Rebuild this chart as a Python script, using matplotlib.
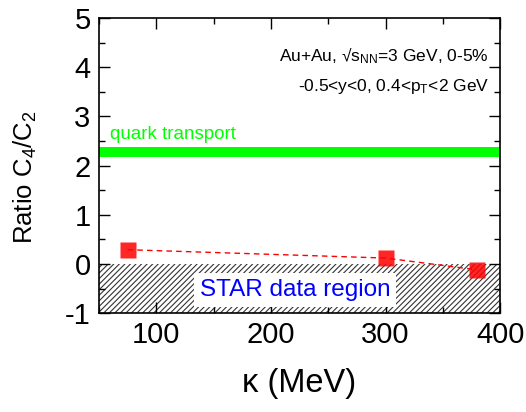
import matplotlib
matplotlib.use("Agg")
import matplotlib.pyplot as plt
from matplotlib.ticker import MultipleLocator

plt.rcParams['font.family'] = ['Liberation Sans', 'DejaVu Sans']
plt.rcParams['mathtext.fontset'] = 'custom'
plt.rcParams['mathtext.rm'] = 'Liberation Sans'
plt.rcParams['mathtext.it'] = 'Liberation Sans'
plt.rcParams['axes.unicode_minus'] = False
plt.rcParams['hatch.linewidth'] = 0.8

kappa = [75, 300, 380]
ratio = [0.29, 0.12, -0.12]
quark_band = (2.17, 2.37)
star_region = (-1.0, 0.0)
x_ticks = [100, 200, 300, 400]
y_ticks = [-1, 0, 1, 2, 3, 4, 5]

fig = plt.figure(figsize=(5.26, 4.12), dpi=100)
ax = fig.add_axes([0.188, 0.240, 0.763, 0.716])

ax.set_xlim(50, 400)
ax.set_ylim(-1, 5)

ax.axhspan(star_region[0], star_region[1], facecolor='white', edgecolor='#333333',
           hatch='//////', linewidth=0, zorder=1)
ax.axhspan(quark_band[0], quark_band[1], facecolor='#00ff00', edgecolor='none', zorder=2)

ax.plot(kappa, ratio, linestyle=(0, (4, 3)), color='red', linewidth=1.0, zorder=3)
ax.plot(kappa, ratio, linestyle='none', marker='s', markersize=11,
        markerfacecolor='red', markeredgecolor='none', alpha=0.85, zorder=4)

ax.text(60, 2.55, 'quark transport', color='#00ff00', fontsize=13.5, zorder=5)
ax.text(221, -0.53, 'STAR data region', color='blue', fontsize=17.5, ha='center', va='center',
        bbox=dict(facecolor='white', edgecolor='none', boxstyle='square,pad=0.25'), zorder=5)

ax.text(390, 4.23, 'Au+Au, √s$_{\\mathrm{NN}}$=3 GeV, 0-5%', ha='right', va='center',
        fontsize=12.5, zorder=5)
ax.text(390, 3.61, '-0.5<y<0, 0.4<p$_{\\mathrm{T}}$<2 GeV', ha='right', va='center',
        fontsize=12.5, zorder=5)

ax.set_xticks(x_ticks)
ax.set_yticks(y_ticks)
ax.xaxis.set_minor_locator(MultipleLocator(50))
ax.yaxis.set_minor_locator(MultipleLocator(0.5))
ax.tick_params(which='both', direction='in', top=True, right=True, labelsize=21, width=1)
ax.tick_params(which='major', length=8, pad=6)
ax.tick_params(which='minor', length=4)
for s in ax.spines.values():
    s.set_linewidth(1.2)

ax.set_ylabel('Ratio C$_4$/C$_2$', fontsize=18.5)
ax.yaxis.set_label_coords(-0.15, 0.46)
ax.set_xlabel('κ (MeV)', fontsize=23.5, labelpad=13)

fig.savefig('out.png', dpi=100)
